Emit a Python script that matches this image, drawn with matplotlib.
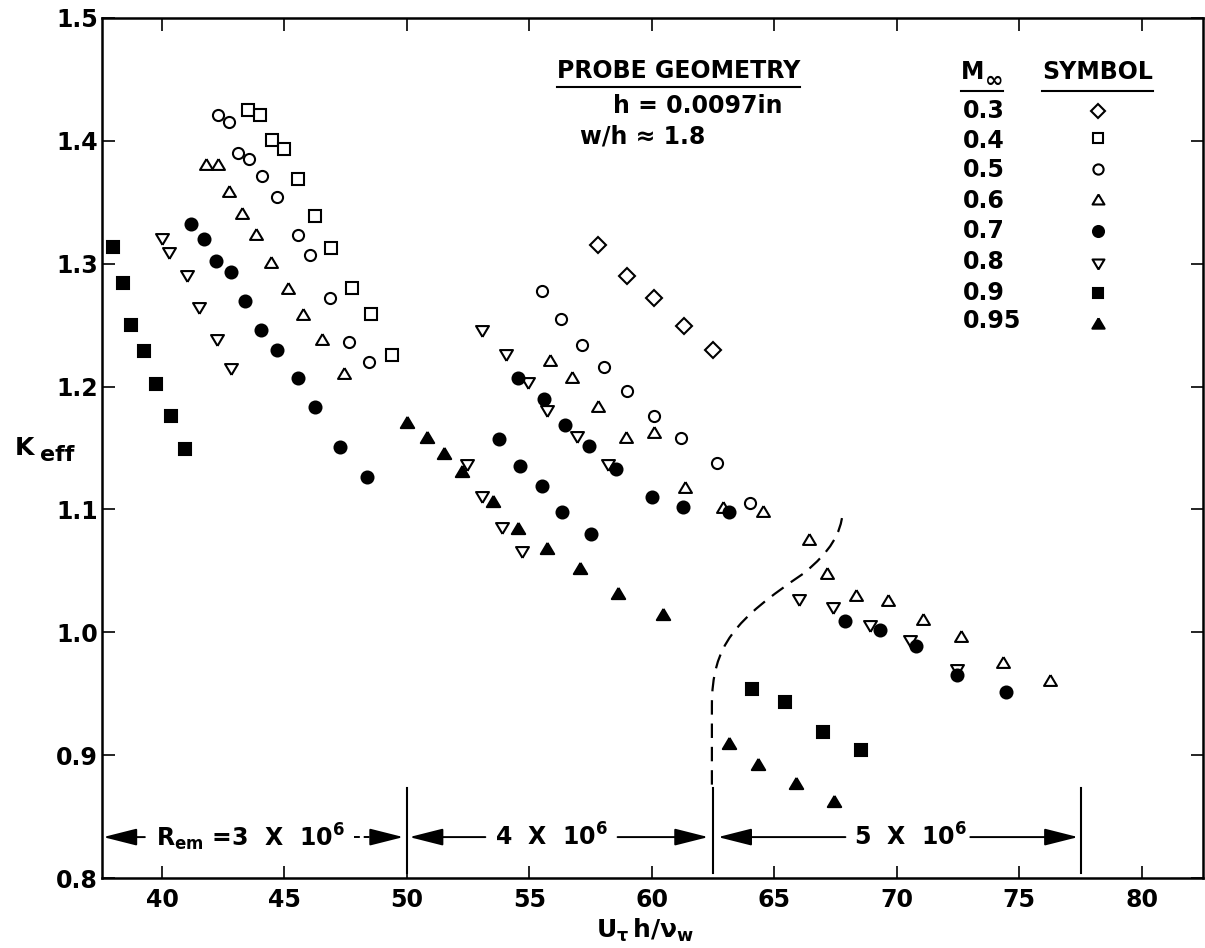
import matplotlib
matplotlib.use('Agg')
import matplotlib.pyplot as plt
from matplotlib.path import Path
from matplotlib.patches import PathPatch

plt.rcParams['font.family'] = ['DejaVu Sans']
plt.rcParams['font.weight'] = 'bold'
plt.rcParams['mathtext.fontset'] = 'custom'
plt.rcParams['mathtext.rm'] = 'DejaVu Sans:bold'
plt.rcParams['mathtext.it'] = 'DejaVu Sans:bold'
plt.rcParams['mathtext.bf'] = 'DejaVu Sans:bold'
plt.rcParams['mathtext.default'] = 'rm'

# ---------------- data ----------------
mach_labels = ['0.3', '0.4', '0.5', '0.6', '0.7', '0.8', '0.9', '0.95']

m03_x = [57.8, 59.0, 60.1, 61.3, 62.5]
m03_y = [1.315, 1.290, 1.272, 1.249, 1.230]

m04_x = [43.5, 44.0, 44.5, 45.0, 45.55, 46.25, 46.9, 47.75, 48.55, 49.4]
m04_y = [1.425, 1.421, 1.401, 1.393, 1.369, 1.339, 1.313, 1.280, 1.259, 1.226]

m05_x = [42.3, 42.75, 43.1, 43.55, 44.1, 44.7, 45.55, 46.05, 46.85, 47.65, 48.45,
         55.5, 56.3, 57.15, 58.05, 59.0, 60.1, 61.2, 62.65, 64.0]
m05_y = [1.421, 1.415, 1.390, 1.385, 1.371, 1.354, 1.323, 1.307, 1.272, 1.236, 1.220,
         1.278, 1.255, 1.234, 1.216, 1.196, 1.176, 1.158, 1.138, 1.105]

m06_x = [41.8, 42.3, 42.75, 43.25, 43.85, 44.45, 45.15, 45.75, 46.55, 47.45,
         55.85, 56.75, 57.8, 58.95, 60.1, 61.35, 62.9, 64.55,
         66.4, 67.15, 68.35, 69.65, 71.05, 72.6, 74.35, 76.25]
m06_y = [1.381, 1.381, 1.359, 1.341, 1.324, 1.301, 1.280, 1.259, 1.239, 1.211,
         1.222, 1.208, 1.184, 1.159, 1.163, 1.118, 1.102, 1.099,
         1.076, 1.048, 1.030, 1.026, 1.011, 0.997, 0.976, 0.961]

m07_x = [41.2, 41.7, 42.2, 42.8, 43.4, 44.05, 44.7, 45.55, 46.25, 47.25, 48.35,
         54.55, 55.6, 56.45, 57.45, 58.55,
         53.75, 54.6, 55.5, 56.35, 57.5,
         60.0, 61.25, 63.15,
         67.9, 69.3, 70.8, 72.45, 74.45]
m07_y = [1.332, 1.320, 1.302, 1.293, 1.270, 1.246, 1.230, 1.207, 1.183, 1.151, 1.126,
         1.207, 1.190, 1.169, 1.152, 1.133,
         1.157, 1.135, 1.119, 1.098, 1.080,
         1.110, 1.102, 1.098,
         1.009, 1.002, 0.989, 0.965, 0.951]

m08_x = [40.0, 40.3, 41.0, 41.5, 42.25, 42.8,
         53.05, 54.05, 54.95, 55.7, 56.95, 58.2,
         52.45, 53.05, 53.9, 54.7,
         66.0, 67.4, 68.9, 70.55, 72.45]
m08_y = [1.320, 1.309, 1.290, 1.264, 1.238, 1.214,
         1.245, 1.226, 1.203, 1.180, 1.159, 1.136,
         1.136, 1.110, 1.085, 1.065,
         1.026, 1.020, 1.005, 0.993, 0.969]

m09_x = [38.0, 38.4, 38.75, 39.25, 39.75, 40.35, 40.95, 64.1, 65.45, 67.0, 68.55]
m09_y = [1.314, 1.284, 1.250, 1.229, 1.202, 1.176, 1.149, 0.954, 0.943, 0.919, 0.904]

m095_x = [50.0, 50.8, 51.5, 52.25, 53.5, 54.55, 55.7, 57.05, 58.6, 60.45,
          63.15, 64.35, 65.9, 67.45]
m095_y = [1.171, 1.159, 1.146, 1.131, 1.107, 1.085, 1.069, 1.052, 1.032, 1.015,
          0.910, 0.893, 0.877, 0.863]

series_x = [m03_x, m04_x, m05_x, m06_x, m07_x, m08_x, m09_x, m095_x]
series_y = [m03_y, m04_y, m05_y, m06_y, m07_y, m08_y, m09_y, m095_y]

x_ticks = [40, 45, 50, 55, 60, 65, 70, 75, 80]
y_ticks = [0.8, 0.9, 1.0, 1.1, 1.2, 1.3, 1.4, 1.5]

# Reynolds-number range boundaries and labels
rem_bounds = [50.0, 62.5, 77.5]
rem_labels = [r'R$_{\mathrm{em}}$ =3  X  10$^{6}$', r'4  X  10$^{6}$', r'5  X  10$^{6}$']

# dashed separation curve (hand-drawn guide line)
sep_x = [62.45, 62.45, 62.45, 63.4, 66.2, 67.3, 67.7, 67.8]
sep_y = [0.876, 0.940, 0.990, 1.010, 1.048, 1.066, 1.080, 1.098]

# ---------------- styling ----------------
tri_up = [(0, 0.84), (-1, -0.84), (1, -0.84), (0, 0.84)]
tri_dn = [(0, -0.84), (-1, 0.84), (1, 0.84), (0, -0.84)]
markers = ['D', 's', 'o', tri_up, 'o', tri_dn, 's', tri_up]
msizes = [7.8, 8.0, 8.0, 9.3, 8.6, 9.3, 8.2, 9.6]
filled = [False, False, False, False, True, False, True, True]

FS = 17
fig = plt.figure(figsize=(12.05, 9.48), dpi=100)
ax = fig.add_axes([102 / 1205, 1 - 878 / 948, 1101 / 1205, 860 / 948])
ax.set_xlim(37.55, 82.5)
ax.set_ylim(0.8, 1.5)

for xs, ys, mk, ms, fl in zip(series_x, series_y, markers, msizes, filled):
    ax.plot(xs, ys, linestyle='none', marker=mk, ms=ms, mew=1.5,
            mec='black', mfc='black' if fl else 'none', clip_on=False)

ax.set_xticks(x_ticks)
ax.set_xticklabels([str(v) for v in x_ticks])
ax.set_yticks(y_ticks)
ax.set_yticklabels(['%.1f' % v for v in y_ticks])
ax.tick_params(axis='both', direction='in', length=9, width=1.2,
               top=True, right=True, labelsize=FS)
ax.tick_params(axis='x', pad=7)
ax.tick_params(axis='y', pad=3)
for s in ax.spines.values():
    s.set_linewidth(1.8)

# axis labels
fig.text(15 / 1205, 1 - 455 / 948, 'K', fontsize=18, va='baseline')
fig.text(40 / 1205, 1 - 461 / 948, 'eff', fontsize=16, va='baseline')
fig.text(645 / 1205, 1 - 938 / 948, r'$\mathrm{U}_{\tau}\,\mathrm{h}/\nu_{\mathrm{w}}$',
         fontsize=FS + 1, ha='center', va='baseline')

# Reynolds ranges
ya = 0.8333
ap = dict(arrowstyle='-|>,head_length=0.95,head_width=0.24', mutation_scale=22,
          lw=1.4, color='black', shrinkA=0, shrinkB=0)
for xb in rem_bounds:
    ax.plot([xb, xb], [0.804, 0.873], color='black', lw=1.5)


def arrow(x0, x1):
    ax.annotate('', xy=(x1, ya), xytext=(x0, ya), arrowprops=ap)


arrow(39.3, 37.6)
ax.plot([47.85, 48.7], [ya, ya], color='black', lw=1.4, ls=(0, (3, 2)))
arrow(48.7, 49.85)
arrow(53.2, 50.1)
arrow(58.6, 62.3)
arrow(67.9, 62.7)
arrow(73.0, 77.4)
for xc, lab in zip([43.63, 55.92, 70.57], rem_labels):
    ax.text(xc, 0.826, lab, fontsize=FS, ha='center', va='baseline')

# dashed separation curve (Bezier)
verts = list(zip(sep_x, sep_y))
codes = [Path.MOVETO, Path.LINETO, Path.CURVE4, Path.CURVE4, Path.CURVE4,
         Path.CURVE4, Path.CURVE4, Path.CURVE4]
ax.add_patch(PathPatch(Path(verts, codes), fill=False, lw=1.6, ls=(0, (6.5, 4)),
                       edgecolor='black'))

# probe geometry block
t1 = ax.text(56.12, 1.4512, 'PROBE GEOMETRY', fontsize=FS, va='baseline')
ax.text(58.41, 1.4228, 'h = 0.0097in', fontsize=FS, va='baseline')
ax.text(57.06, 1.3976, 'w/h \u2248 1.8', fontsize=FS, va='baseline')

# legend block
t2 = ax.text(72.6, 1.4504, 'M', fontsize=FS, va='baseline')
t3 = ax.text(75.92, 1.4504, 'SYMBOL', fontsize=FS, va='baseline')
row_base = [117, 147, 176, 207, 237, 268, 299, 327]
row_sym = [110, 137, 168, 198, 230, 263, 292, 322]
for lab, rb, rs, mk, ms, fl in zip(mach_labels, row_base, row_sym, markers, msizes, filled):
    ax.text(72.69, 0.8 + (878 - rb) / 1230, lab, fontsize=FS, va='baseline')
    ax.plot([78.2], [0.8 + (878 - rs) / 1230], linestyle='none', marker=mk,
            ms=ms * 0.92, mew=1.5, mec='black', mfc='black' if fl else 'none')

fig.canvas.draw()
r = fig.canvas.get_renderer()
inv = ax.transData.inverted()
bm = t2.get_window_extent(r)
xi, yi = inv.transform((bm.x1 + 1, bm.y0 - 3))
t2b = ax.text(xi, yi, '\u221e', fontsize=16, va='baseline')
fig.canvas.draw()

underlines = [(t1, t1, 4), (t2, t2b, 7), (t3, t3, 7)]
for ta, tb, dy in underlines:
    ba = ta.get_window_extent(r)
    bb = tb.get_window_extent(r)
    (xa, yb), (xb2, _) = inv.transform([(ba.x0, ba.y0 - dy), (bb.x1, ba.y0)])
    ax.plot([xa, xb2], [yb, yb], color='black', lw=1.5, clip_on=False)

fig.savefig('out.png', dpi=100)
